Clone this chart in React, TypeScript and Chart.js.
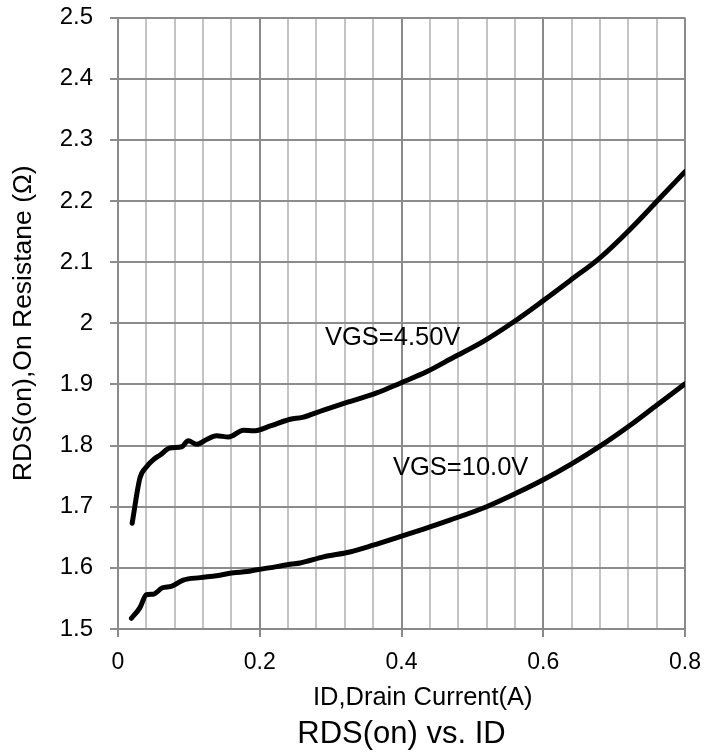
import React, { useEffect, useRef } from "react";
import { Chart, registerables } from "chart.js";

Chart.register(...registerables);

const FONT = "'Liberation Sans', Arial, sans-serif";

// VGS = 4.50 V curve
const vgs45Id = [0.02, 0.031, 0.04, 0.05, 0.06, 0.073, 0.09, 0.099, 0.111, 0.125, 0.139, 0.156, 0.177, 0.191, 0.215, 0.243, 0.26, 0.29, 0.327, 0.365, 0.398, 0.436, 0.473, 0.515, 0.558, 0.6, 0.638, 0.68, 0.722, 0.76, 0.8];
const vgs45R = [1.673, 1.747, 1.765, 1.777, 1.785, 1.796, 1.798, 1.808, 1.802, 1.81, 1.816, 1.814, 1.825, 1.824, 1.832, 1.843, 1.846, 1.858, 1.872, 1.886, 1.902, 1.921, 1.944, 1.97, 2.002, 2.037, 2.07, 2.107, 2.153, 2.199, 2.248];

// VGS = 10.0 V curve
const vgs10Id = [0.019, 0.031, 0.04, 0.05, 0.062, 0.076, 0.092, 0.116, 0.139, 0.163, 0.182, 0.196, 0.224, 0.243, 0.257, 0.29, 0.327, 0.36, 0.398, 0.43, 0.468, 0.52, 0.56, 0.6, 0.64, 0.68, 0.727, 0.76, 0.8];
const vgs10R = [1.5175, 1.535, 1.556, 1.557, 1.567, 1.57, 1.58, 1.584, 1.587, 1.592, 1.594, 1.597, 1.602, 1.606, 1.608, 1.618, 1.626, 1.637, 1.651, 1.663, 1.678, 1.7, 1.721, 1.744, 1.77, 1.799, 1.837, 1.866, 1.901];

// curve labels: text, anchor (x in A, y in Ω)
const labelText = ["VGS=4.50V", "VGS=10.0V"];
const labelX = [0.292, 0.388];
const labelY = [1.965, 1.752];

const xMin = 0, xMax = 0.8, xMinorStep = 0.04, xMajorEvery = 0.2;
const yMin = 1.5, yMax = 2.5, yStep = 0.1;

const titleText = "RDS(on) vs. ID";
const xTitle = "      ID,Drain Current(A)";
const yTitle = "RDS(on),On Resistane (Ω)";

const isMajorX = (v: number) => Math.round(v * 100) % Math.round(xMajorEvery * 100) === 0;

export default function App() {
  const ref = useRef<HTMLCanvasElement | null>(null);

  useEffect(() => {
    const canvas = ref.current;
    if (!canvas) return;

    const labelsPlugin = {
      id: "curveLabels",
      afterDatasetsDraw(chart: any) {
        const { ctx, scales } = chart;
        ctx.save();
        ctx.font = `25.5px ${FONT}`;
        ctx.fillStyle = "#000";
        ctx.textAlign = "left";
        ctx.textBaseline = "alphabetic";
        labelText.forEach((t, i) => {
          ctx.fillText(t, scales.x.getPixelForValue(labelX[i]), scales.y.getPixelForValue(labelY[i]));
        });
        ctx.restore();
      },
    };

    const chart = new Chart(canvas, {
      type: "line",
      data: {
        datasets: [
          {
            label: "VGS=4.50V",
            data: vgs45Id.map((x, i) => ({ x, y: vgs45R[i] })),
            borderColor: "#000",
            borderWidth: 5,
            pointRadius: 0,
            cubicInterpolationMode: "monotone",
            borderCapStyle: "round",
            borderJoinStyle: "round",
          },
          {
            label: "VGS=10.0V",
            data: vgs10Id.map((x, i) => ({ x, y: vgs10R[i] })),
            borderColor: "#000",
            borderWidth: 5,
            pointRadius: 0,
            cubicInterpolationMode: "monotone",
            borderCapStyle: "round",
            borderJoinStyle: "round",
          },
        ],
      },
      options: {
        responsive: false,
        animation: false,
        devicePixelRatio: 1,
        layout: { padding: { left: 0, right: 35, top: 17.5, bottom: 0 } },
        plugins: {
          legend: { display: false },
          tooltip: { enabled: false },
          title: {
            display: true,
            text: titleText,
            position: "bottom",
            fullSize: false,
            color: "#000",
            font: { family: FONT, size: 31, weight: "normal", lineHeight: 1.2 },
            padding: { top: 0, bottom: 0 },
          },
        },
        scales: {
          x: {
            type: "linear",
            min: xMin,
            max: xMax,
            afterFit(scale: any) {
              scale.height = 86.8;
            },
            ticks: {
              stepSize: xMinorStep,
              autoSkip: false,
              maxRotation: 0,
              padding: 12,
              color: "#000",
              font: { family: FONT, size: 23 },
              callback: (v: any) => (isMajorX(Number(v)) ? String(Number(Number(v).toFixed(1))) : ""),
            },
            grid: {
              color: (c: any) => (isMajorX(c.tick?.value ?? 0) ? "#8a8a8a" : "#c4c4c4"),
              tickColor: (c: any) => (isMajorX(c.tick?.value ?? 0) ? "#8a8a8a" : "rgba(0,0,0,0)"),
              lineWidth: 2,
              tickLength: 8,
            },
            border: { color: "#8a8a8a", width: 2 },
            title: {
              display: true,
              text: xTitle,
              color: "#000",
              font: { family: FONT, size: 25.5, lineHeight: 1.2 },
              padding: { top: 0, bottom: 2.5 },
            },
          },
          y: {
            type: "linear",
            min: yMin,
            max: yMax,
            afterFit(scale: any) {
              scale.width = 118;
              scale.paddingTop = 0;
            },
            ticks: {
              stepSize: yStep,
              padding: 17,
              color: "#000",
              font: { family: FONT, size: 24 },
              callback: (v: any) => String(Number(Number(v).toFixed(1))),
            },
            grid: {
              color: "#8c8c8c",
              lineWidth: 2,
              tickLength: 8,
            },
            border: { color: "#8a8a8a", width: 2 },
            title: {
              display: true,
              text: yTitle,
              color: "#000",
              font: { family: FONT, size: 26.5, lineHeight: 1.2 },
              padding: { top: 8, bottom: 0 },
            },
          },
        },
      },
      plugins: [labelsPlugin],
    } as any);

    return () => chart.destroy();
  }, []);

  return (
    <div style={{ position: "absolute", left: 0, top: 0, width: 720, height: 753, background: "#fff" }}>
      <canvas ref={ref} width={720} height={753} style={{ display: "block", width: 720, height: 753 }} />
    </div>
  );
}
